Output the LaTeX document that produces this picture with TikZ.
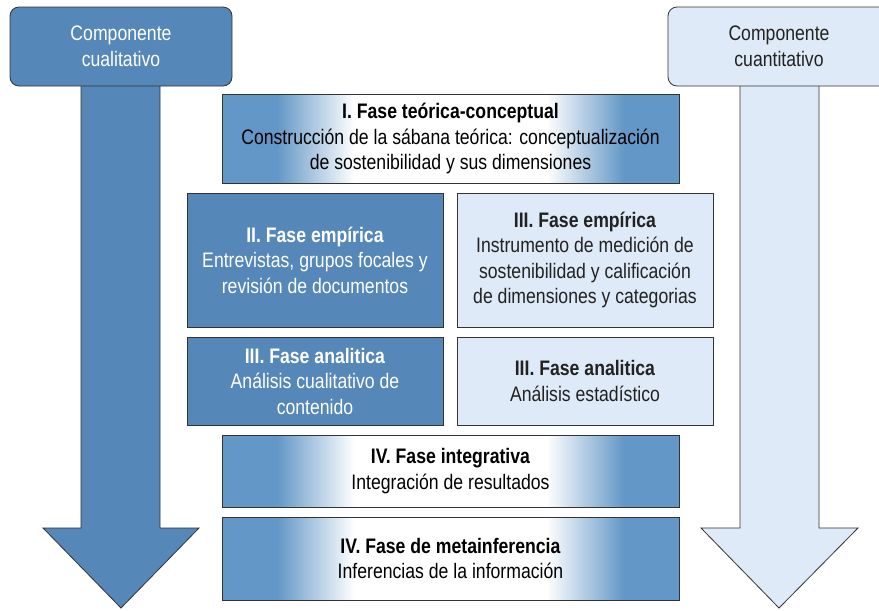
\documentclass[tikz,border=0pt]{standalone}
\usepackage{fontspec}
\setmainfont{Liberation Sans}[FakeStretch=0.84]
\usetikzlibrary{positioning}
\definecolor{cualblue}{HTML}{5587B9}
\definecolor{cuanblue}{HTML}{DEEAF7}
\definecolor{gradblue}{HTML}{6397C7}
\definecolor{boxline}{HTML}{333333}
\definecolor{boxtext}{HTML}{222222}
\pgfdeclarehorizontalshading{fasegrad}{100bp}{color(0bp)=(gradblue); color(31bp)=(gradblue);
  color(39.5bp)=(white); color(60.5bp)=(white); color(69bp)=(gradblue); color(100bp)=(gradblue)}

\begin{document}
\begin{tikzpicture}[x=1pt, y=-1pt,
    font=\fontsize{21}{25.5}\selectfont,
    fase/.style={draw=boxline, line width=0.8pt, align=center, inner sep=0pt},
    cual/.style={fase, fill=cualblue, text=white},
    cuan/.style={fase, fill=cuanblue, text=boxtext},
    integ/.style={fase, shading=fasegrad, text=black},
    header/.style={rounded corners=9pt, minimum width=222pt, minimum height=79pt},
    flecha/.style={draw=boxline, line width=0.8pt, line join=miter}]
    \useasboundingbox (0,0) rectangle (879,611);
    \clip (0,0) rectangle (879,611);

    % Big arrows
    \draw[flecha, fill=cualblue] (81,80) -- (81,528) -- (43,528) -- (121,608)
        -- (199,528) -- (160,528) -- (160,80);
    \draw[flecha, fill=cuanblue] (740,80) -- (740,528) -- (701,528) -- (779,608)
        -- (858,528) -- (819,528) -- (819,80);

    % Components
    \node[cual, header] (cualhead) at (121,46.5) {Componente\\cualitativo};
    \node[cuan, header] (cuanhead) at (779,46.5) {Componente\\cuantitativo};

    % Phases
    \node[integ, minimum width=457pt, minimum height=89pt] (teorica) at (450.5,138.5)
        {\textbf{I. Fase teórica-conceptual}\\Construcción de la sábana teórica: conceptualización\\de sostenibilidad y sus dimensiones};

    \node[cual, minimum width=256pt, minimum height=134pt] (empcual) at (315,260)
        {\textbf{II. Fase empírica}\\Entrevistas, grupos focales y\\revisión de documentos};
    \node[cuan, minimum width=256pt, minimum height=134pt] (empcuan) at (585,260)
        {\textbf{III. Fase empírica}\\Instrumento de medición de\\sostenibilidad y calificación\\de dimensiones y categorias};

    \node[cual, minimum width=256pt, minimum height=88pt] (anacual) at (315,381)
        {\textbf{III. Fase analitica}\\Análisis cualitativo de\\contenido};
    \node[cuan, minimum width=256pt, minimum height=88pt] (anacuan) at (585,381)
        {\textbf{III. Fase analitica}\\Análisis estadístico};

    \node[integ, minimum width=457pt, minimum height=72pt] (integra) at (450.5,471)
        {\textbf{IV. Fase integrativa}\\Integración de resultados};
    \node[integ, minimum width=457pt, minimum height=83pt] (meta) at (450.5,558.5)
        {\textbf{IV. Fase de metainferencia}\\Inferencias de la información};
\end{tikzpicture}
\end{document}
